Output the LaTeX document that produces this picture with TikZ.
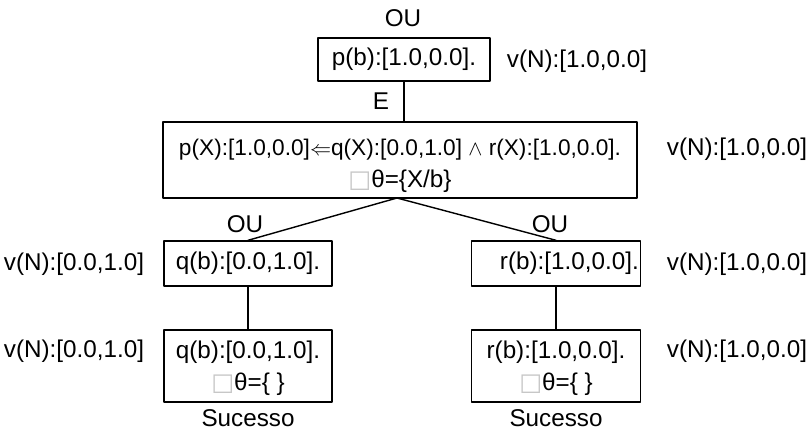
\documentclass[tikz,border=0pt]{standalone}
\usepackage{fontspec}
\setmainfont{Liberation Sans}
\newfontfamily\symb{DejaVu Sans}
\usetikzlibrary{positioning}

\newcommand{\emptybox}{{\symb\textcolor{gray!45}{\char"25A1}}}

\begin{document}
\begin{tikzpicture}[x=0.02cm,y=-0.02cm,line join=round,line cap=round,
  font=\fontsize{13.8}{18.2}\selectfont,
  goal/.style={draw,line width=0.8pt,inner sep=0pt,align=center},
  edge/.style={line width=0.8pt}]
  \useasboundingbox (0,0) rectangle (812,429);

  % nodes of the tree
  \node[goal,minimum width=3.44cm,minimum height=0.86cm] (top) at (404,59.5) {p(b):[1.0,0.0].};
  \node[goal,minimum width=9.48cm,minimum height=1.52cm,font=\fontsize{12.9}{18.2}\selectfont]
    (clause) at (400,160)
    {\rule{0pt}{0.56cm}p(X):[1.0,0.0]$\Leftarrow$q(X):[0.0,1.0] $\wedge$ r(X):[1.0,0.0].\\
     {\fontsize{13.8}{18.2}\selectfont\emptybox θ=\{X/b\}}};
  \node[goal,minimum width=3.36cm,minimum height=0.9cm] (qgoal) at (248,263.5) {q(b):[0.0,1.0].};
  \node[goal,minimum width=3.38cm,minimum height=0.9cm] (rgoal) at (556,263.5) {\hspace{1.1em}r(b):[1.0,0.0].};
  \node[goal,minimum width=3.36cm,minimum height=1.44cm] (qleaf) at (248,366)
    {\rule{0pt}{0.46cm}q(b):[0.0,1.0].\\ \emptybox θ=\{ \}};
  \node[goal,minimum width=3.38cm,minimum height=1.44cm] (rleaf) at (556,366)
    {\rule{0pt}{0.46cm}r(b):[1.0,0.0].\\ \emptybox θ=\{ \}};

  % values
  \node (vtop) at (577,61) {v(N):[1.0,0.0]};
  \node (vclause) at (737,149) {v(N):[1.0,0.0]};
  \node (vq) at (74,264) {v(N):[0.0,1.0]};
  \node (vr) at (737,264) {v(N):[1.0,0.0]};
  \node (vqleaf) at (74,351) {v(N):[0.0,1.0]};
  \node (vrleaf) at (737,351) {v(N):[1.0,0.0]};

  % OU / E / Sucesso
  \node (outop) at (403,18) {OU};
  \node (e) at (381,101) {E};
  \node (ouq) at (245,224) {OU};
  \node (our) at (550,224) {OU};
  \node (sq) at (248,418) {Sucesso};
  \node (sr) at (556,418) {Sucesso};

  \coordinate (fork) at (397,198);
  \draw[edge] (top.south) -- (clause.north -| top.south);
  \draw[edge] (fork) -- (qgoal.north);
  \draw[edge] (fork) -- (rgoal.north);
  \draw[edge] (qgoal) -- (qleaf);
  \draw[edge] (rgoal) -- (rleaf);
\end{tikzpicture}
\end{document}
